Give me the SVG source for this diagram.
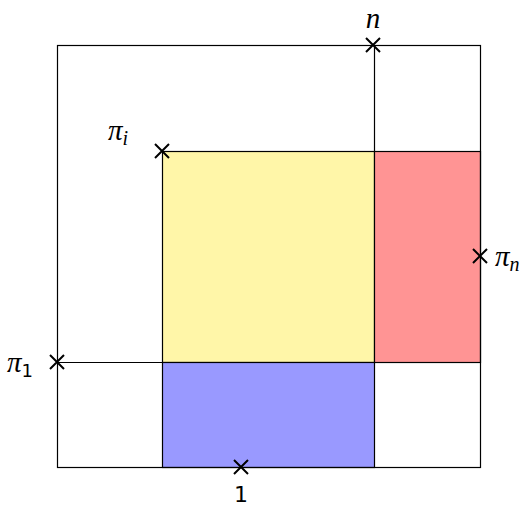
<svg xmlns="http://www.w3.org/2000/svg" width="526" height="508" viewBox="0 0 526 508">
<style>
.ln{stroke:#000;stroke-width:1.2;fill:none}
.bx{stroke:#000;stroke-width:1.2}
.x{stroke:#000;stroke-width:2;fill:none}
.t{font-family:"Liberation Serif","DejaVu Serif",serif;font-style:italic;font-size:29px;fill:#000}
.n{font-family:"DejaVu Sans","Liberation Sans",sans-serif;font-size:22px;fill:#000}
.s{font-family:"Liberation Serif","DejaVu Serif",serif;font-style:italic;font-size:20px}
.s1{font-family:"DejaVu Sans","Liberation Sans",sans-serif;font-size:18px;font-style:normal}
</style>
<rect width="526" height="508" fill="#fff"/>
<g id="yellow"><rect x="162.5" y="151.5" width="212" height="211" fill="#fff6a8" class="bx"/></g>
<g id="red"><rect x="374.5" y="151.5" width="106" height="211" fill="#ff9494" class="bx"/></g>
<g id="blue"><rect x="162.5" y="362.5" width="212" height="105" fill="#9999ff" class="bx"/></g>
<g id="frame"><rect x="57.5" y="45.5" width="423" height="422" class="ln"/></g>
<g id="connectors">
<line x1="374.5" y1="45.5" x2="374.5" y2="151.5" class="ln"/>
<line x1="57.5" y1="362.5" x2="162.5" y2="362.5" class="ln"/>
<line x1="374.5" y1="362.5" x2="480.5" y2="362.5" class="ln"/>
</g>
<g id="mark-n"><path d="M366 38L380 52M380 38L366 52" class="x"/><text x="373" y="28" text-anchor="middle" class="t">n</text></g>
<g id="mark-pii"><path d="M155 144L169 158M169 144L155 158" class="x"/><text x="108" y="140" class="t">π<tspan class="s" dy="5">i</tspan></text></g>
<g id="mark-pin"><path d="M473 249L487 263M487 249L473 263" class="x"/><text x="495" y="266" class="t">π<tspan class="s" dy="5">n</tspan></text></g>
<g id="mark-pi1"><path d="M50 355L64 369M64 355L50 369" class="x"/><text x="7" y="372" class="t">π<tspan class="s1" dy="5">1</tspan></text></g>
<g id="mark-1"><path d="M234 460L248 474M248 460L234 474" class="x"/><text x="241" y="502" text-anchor="middle" class="n">1</text></g>
</svg>
